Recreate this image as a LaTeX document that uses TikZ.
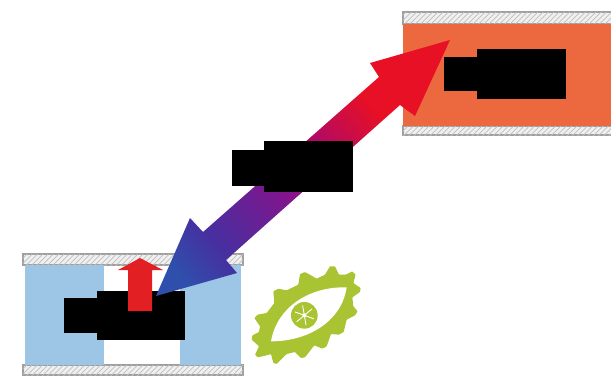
\documentclass[tikz,border=0pt]{standalone}
\usepackage{xcolor}
\usetikzlibrary{patterns}

\definecolor{wallblue}{RGB}{156,197,230}
\definecolor{wallorange}{RGB}{236,104,62}
\definecolor{gearlime}{RGB}{168,196,50}
\definecolor{liftred}{RGB}{226,32,36}
\definecolor{arrowblue}{RGB}{46,80,172}
\definecolor{arrowindigo}{RGB}{70,48,160}
\definecolor{arrowpurple}{RGB}{128,22,142}
\definecolor{arrowcrimson}{RGB}{178,10,100}
\definecolor{arrowred}{RGB}{232,16,36}

\pgfdeclareverticalshading{arrowfade}{100bp}{
    color(0bp)=(arrowblue); color(20bp)=(arrowblue); color(29bp)=(arrowindigo);
    color(44bp)=(arrowpurple); color(55bp)=(arrowcrimson); color(67bp)=(arrowred); color(100bp)=(arrowred)}

\tikzset{
    hatchwall/.style={draw=gray!75, line width=0.6pt, fill=gray!12, postaction={pattern=north east lines, pattern color=gray!50}},
    blackbar/.style={fill=black}
}

\begin{document}
\begin{tikzpicture}[x=0.02cm, y=-0.02cm]
    \useasboundingbox (0,0) rectangle (611,376);

    % Left chamber
    \draw [hatchwall] (23,254) rectangle (243,265);
    \draw [hatchwall] (23,365) rectangle (243,375);
    \fill [wallblue] (25,265) rectangle (104,365);
    \fill [wallblue] (180,265) rectangle (241,365);
    \fill [blackbar] (64,298) rectangle (98,333);
    \fill [blackbar] (97,291) rectangle (185,340);
    \fill [liftred] (128,311) -- (128,270) -- (118,270) -- (140,258) -- (163,270) -- (152,270) -- (152,311) -- cycle;

    % Right chamber
    \draw [hatchwall] (403,12) rectangle (612,24);
    \draw [hatchwall] (403,126) rectangle (612,135);
    \fill [wallorange] (403,24) rectangle (611,126);
    \fill [blackbar] (444,57) rectangle (478,91);
    \fill [blackbar] (477,49) rectangle (566,99);

    % Double arrow
    \shade [shading=arrowfade, shading angle=-50]
        (450,40) -- (370,63) -- (379,77) -- (203,232) -- (190,218) -- (156,296)
        -- (237,273) -- (226,260) -- (400,105) -- (415,116) -- cycle;

    % Middle block over the arrow
    \fill [blackbar] (232,150) rectangle (265,186);
    \fill [blackbar] (264,141) rectangle (353,192);

    % Gear with eye
    \begin{scope}[shift={(245,258)}, x=0.00667cm, y=-0.00667cm]
        \fill [gearlime, rounded corners=0.4pt]
            (28,180) -- (38,170) -- (65,165) -- (88,135) -- (85,100) -- (100,92) -- (125,97)
            -- (160,80) -- (165,48) -- (180,42) -- (198,52) -- (215,62) -- (240,50) -- (255,25)
            -- (270,25) -- (282,50) -- (302,50) -- (322,40) -- (332,50) -- (325,75) -- (347,90)
            -- (345,102) -- (322,118) -- (325,145) -- (338,160) -- (330,172) -- (305,185)
            -- (296,222) -- (282,230) -- (258,228) -- (245,265) -- (232,272) -- (208,262)
            -- (180,298) -- (168,300) -- (150,282) -- (125,288) -- (95,318) -- (85,315)
            -- (78,288) -- (65,292) -- (38,298) -- (30,290) -- (42,265) -- (20,245) -- (22,232)
            -- (42,222) -- (45,205) -- cycle;
        \fill [white] (78,250) .. controls (95,150) and (190,85) .. (305,88)
            .. controls (290,190) and (190,250) .. cycle;
        \fill [gearlime] (178,172) circle (40);
        \foreach \a in {0,60,...,300}
            \draw [white, line width=0.5pt] (178,172) -- ++(\a+20:30);
        \fill [white] (178,172) circle (6);
    \end{scope}
\end{tikzpicture}
\end{document}
